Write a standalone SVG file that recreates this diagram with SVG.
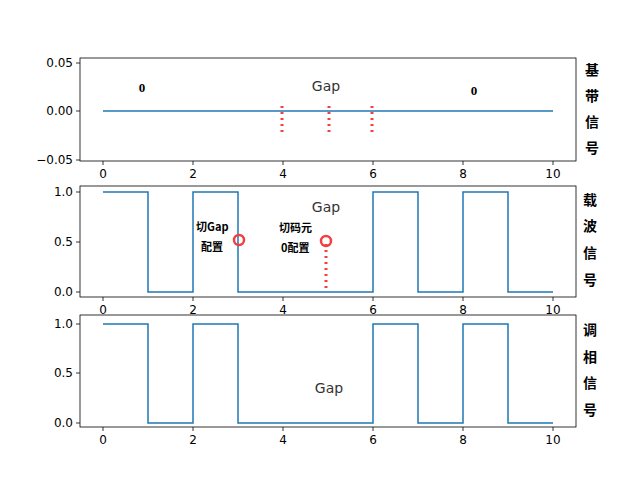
<svg xmlns="http://www.w3.org/2000/svg" width="640" height="480" viewBox="0 0 640 480">
<style>
text{font-family:"DejaVu Sans","Noto Sans CJK SC",sans-serif;font-size:12px;fill:#000}
.t{text-anchor:middle}
.yl{text-anchor:end;dominant-baseline:middle}
.ax{fill:none;stroke:#000;stroke-width:0.8}
.tk{stroke:#000;stroke-width:0.8}
.sig{fill:none;stroke:#1f77b4;stroke-width:1.5}
.red{stroke:#f04040;stroke-width:3;stroke-dasharray:2,4}
.cj{font-family:"Noto Sans CJK SC",sans-serif;font-weight:bold;font-size:14px;text-anchor:middle}
.an{font-family:"Noto Sans CJK SC",sans-serif;font-weight:bold;font-size:11px}
.z{font-family:"Liberation Serif",serif;font-weight:bold;font-size:13px;text-anchor:middle}
.gap{font-size:14px;fill:#333}
</style>
<rect width="640" height="480" fill="#fff"/>
<g id="panel1">
<rect class="ax" x="80" y="58" width="496" height="103"/>
<g class="tk"><line x1="80" y1="63" x2="76" y2="63"/><line x1="80" y1="111" x2="76" y2="111"/><line x1="80" y1="160" x2="76" y2="160"/>
<line x1="103" y1="161" x2="103" y2="165"/><line x1="193" y1="161" x2="193" y2="165"/><line x1="283" y1="161" x2="283" y2="165"/><line x1="373" y1="161" x2="373" y2="165"/><line x1="463" y1="161" x2="463" y2="165"/><line x1="553" y1="161" x2="553" y2="165"/></g>
<text class="yl" x="73" y="63">0.05</text><text class="yl" x="73" y="111">0.00</text><text class="yl" x="73" y="160">−0.05</text>
<text class="t" x="103" y="178">0</text><text class="t" x="193" y="178">2</text><text class="t" x="283" y="178">4</text><text class="t" x="373" y="178">6</text><text class="t" x="463" y="178">8</text><text class="t" x="553" y="178">10</text>
<line class="sig" x1="103" y1="111" x2="553" y2="111"/>
<line class="red" x1="282" y1="106" x2="282" y2="132"/><line class="red" x1="329" y1="106" x2="329" y2="132"/><line class="red" x1="372" y1="106" x2="372" y2="132"/>
<text x="142" y="92" class="z">0</text>
<text x="474" y="95" class="z">0</text>
<text class="gap t" x="326" y="91">Gap</text>
<text class="cj" x="592" y="75">基</text><text class="cj" x="592" y="101">带</text><text class="cj" x="592" y="127">信</text><text class="cj" x="592" y="153">号</text>
</g>
<g id="panel2">
<rect class="ax" x="80" y="186" width="496" height="111"/>
<g class="tk"><line x1="80" y1="192" x2="76" y2="192"/><line x1="80" y1="242" x2="76" y2="242"/><line x1="80" y1="292" x2="76" y2="292"/>
<line x1="103" y1="297" x2="103" y2="301"/><line x1="193" y1="297" x2="193" y2="301"/><line x1="283" y1="297" x2="283" y2="301"/><line x1="373" y1="297" x2="373" y2="301"/><line x1="463" y1="297" x2="463" y2="301"/><line x1="553" y1="297" x2="553" y2="301"/></g>
<text class="yl" x="73" y="192">1.0</text><text class="yl" x="73" y="242">0.5</text><text class="yl" x="73" y="292">0.0</text>
<text class="t" x="103" y="314">0</text><text class="t" x="193" y="314">2</text><text class="t" x="283" y="314">4</text><text class="t" x="373" y="314">6</text><text class="t" x="463" y="314">8</text><text class="t" x="553" y="314">10</text>
<polyline class="sig" points="103,192 148,192 148,292 193,292 193,192 238,192 238,292 373,292 373,192 418,192 418,292 463,292 463,192 508,192 508,292 553,292"/>
<line class="red" x1="326" y1="244" x2="326" y2="292"/>
<circle cx="239" cy="240" r="5" fill="none" stroke="#f04040" stroke-width="2.5"/>
<circle cx="326" cy="241" r="5" fill="none" stroke="#f04040" stroke-width="2.5"/>
<text class="gap t" x="326" y="212">Gap</text>
<text class="an" x="196" y="231">切Gap</text><text class="an" x="201" y="251">配置</text>
<text class="an" x="279" y="232">切码元</text><text class="an" x="281" y="252">0配置</text>
<text class="cj" x="590" y="205">载</text><text class="cj" x="590" y="231">波</text><text class="cj" x="590" y="258">信</text><text class="cj" x="590" y="285">号</text>
</g>
<g id="panel3">
<rect class="ax" x="80" y="315" width="496" height="112"/>
<g class="tk"><line x1="80" y1="324" x2="76" y2="324"/><line x1="80" y1="373" x2="76" y2="373"/><line x1="80" y1="423" x2="76" y2="423"/>
<line x1="103" y1="427" x2="103" y2="431"/><line x1="193" y1="427" x2="193" y2="431"/><line x1="283" y1="427" x2="283" y2="431"/><line x1="373" y1="427" x2="373" y2="431"/><line x1="463" y1="427" x2="463" y2="431"/><line x1="553" y1="427" x2="553" y2="431"/></g>
<text class="yl" x="73" y="324">1.0</text><text class="yl" x="73" y="373">0.5</text><text class="yl" x="73" y="423">0.0</text>
<text class="t" x="103" y="444">0</text><text class="t" x="193" y="444">2</text><text class="t" x="283" y="444">4</text><text class="t" x="373" y="444">6</text><text class="t" x="463" y="444">8</text><text class="t" x="553" y="444">10</text>
<polyline class="sig" points="103,324 148,324 148,423 193,423 193,324 238,324 238,423 373,423 373,324 418,324 418,423 463,423 463,324 508,324 508,423 553,423"/>
<text class="gap t" x="329" y="393">Gap</text>
<text class="cj" x="590" y="335">调</text><text class="cj" x="590" y="362">相</text><text class="cj" x="590" y="388">信</text><text class="cj" x="590" y="415">号</text>
</g>
</svg>
